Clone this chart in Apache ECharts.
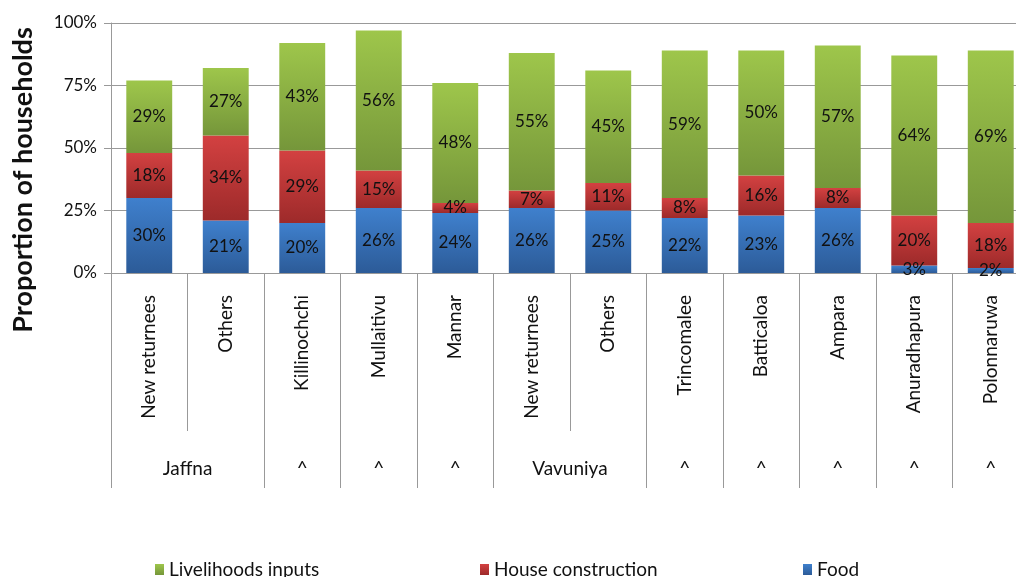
<!DOCTYPE html>
<html>
<head>
<meta charset="utf-8">
<script src="https://cdn.jsdelivr.net/npm/echarts@6/dist/echarts.min.js"></script>
<style>html,body{margin:0;padding:0;background:#fff;overflow:hidden;}#c{width:1040px;height:577px;}</style>
</head>
<body>
<div id="c"></div>
<script>
var categories = ['New returnees','Others','Killinochchi','Mullaitivu','Mannar','New returnees','Others','Trincomalee','Batticaloa','Ampara','Anuradhapura','Polonnaruwa'];
var groupLabels = ['Jaffna','^','^','^','Vavuniya','^','^','^','^','^'];
var groupSpans = [2,1,1,1,2,1,1,1,1,1];
var food = [30,21,20,26,24,26,25,22,23,26,3,2];
var house = [18,34,29,15,4,7,11,8,16,8,20,18];
var livelihoods = [29,27,43,56,48,55,45,59,50,57,64,69];
var yTicks = [0,25,50,75,100];

var FONT = 'Lato';
var boundaries = [0], centers = [], labelMap = {}, pos = 0;
groupSpans.forEach(function(s, i){
  centers.push(pos + s/2);
  labelMap[String(pos + s/2)] = groupLabels[i];
  pos += s;
  boundaries.push(pos);
});

function grad(top, bottom){
  return new echarts.graphic.LinearGradient(0,0,0,1,[{offset:0,color:top},{offset:1,color:bottom}]);
}
var cBlue = grad('#3f80cd','#2c5b98');
var cRed = grad('#d34141','#9d2a2a');
var cGreen = grad('#9ec64b','#75963a');
var AX = '#999999';

var chart = echarts.init(document.getElementById('c'), null, {renderer:'canvas'});
var lbl = {show:true, position:'inside', color:'#111', fontFamily:FONT, fontSize:17, formatter:'{c}%'};
function legendAt(name, left){
  return {data:[name], left:left, top:555, itemWidth:9, itemHeight:11, icon:'rect',
    textStyle:{fontFamily:FONT, fontSize:19, color:'#111'}, selectedMode:false};
}
chart.setOption({
  animation:false,
  grid:{left:111, top:23, width:918, height:250},
  legend:[legendAt('Livelihoods inputs',150), legendAt('House construction',475), legendAt('Food',798)],
  graphic:[{type:'text', x:23, y:180, rotation:Math.PI/2,
    style:{text:'Proportion of households', font:'bold 27px '+FONT, fill:'#111', align:'center', verticalAlign:'middle', textAlign:'center', textVerticalAlign:'middle'}}],
  xAxis:[{
    type:'category', data:categories, boundaryGap:true,
    axisLine:{show:true, lineStyle:{color:AX, width:1}},
    axisTick:{show:true, interval:0, length:158, lineStyle:{color:AX}},
    axisLabel:{interval:0, rotate:90, margin:22, color:'#111', fontFamily:FONT, fontSize:19}
  },{
    type:'value', min:0, max:categories.length, position:'bottom',
    axisLine:{show:false}, splitLine:{show:false},
    axisTick:{show:true, customValues:boundaries, length:215, lineStyle:{color:AX}},
    axisLabel:{show:true, customValues:centers, margin:186, color:'#111', fontFamily:FONT, fontSize:19,
      formatter:function(v){ return labelMap[String(v)] || ''; }}
  }],
  yAxis:{
    type:'value', min:yTicks[0], max:yTicks[yTicks.length-1], interval:25,
    axisLine:{show:true, lineStyle:{color:AX}},
    axisTick:{show:true, length:7, lineStyle:{color:AX}},
    splitLine:{show:true, lineStyle:{color:AX, width:1}},
    axisLabel:{formatter:'{value}%', margin:14, color:'#111', fontFamily:FONT, fontSize:17}
  },
  series:[
    {name:'Food', type:'bar', stack:'a', data:food, barWidth:'60%', itemStyle:{color:cBlue}, label:lbl},
    {name:'House construction', type:'bar', stack:'a', data:house, itemStyle:{color:cRed}, label:lbl},
    {name:'Livelihoods inputs', type:'bar', stack:'a', data:livelihoods, itemStyle:{color:cGreen}, label:lbl}
  ]
});
</script>
</body>
</html>
